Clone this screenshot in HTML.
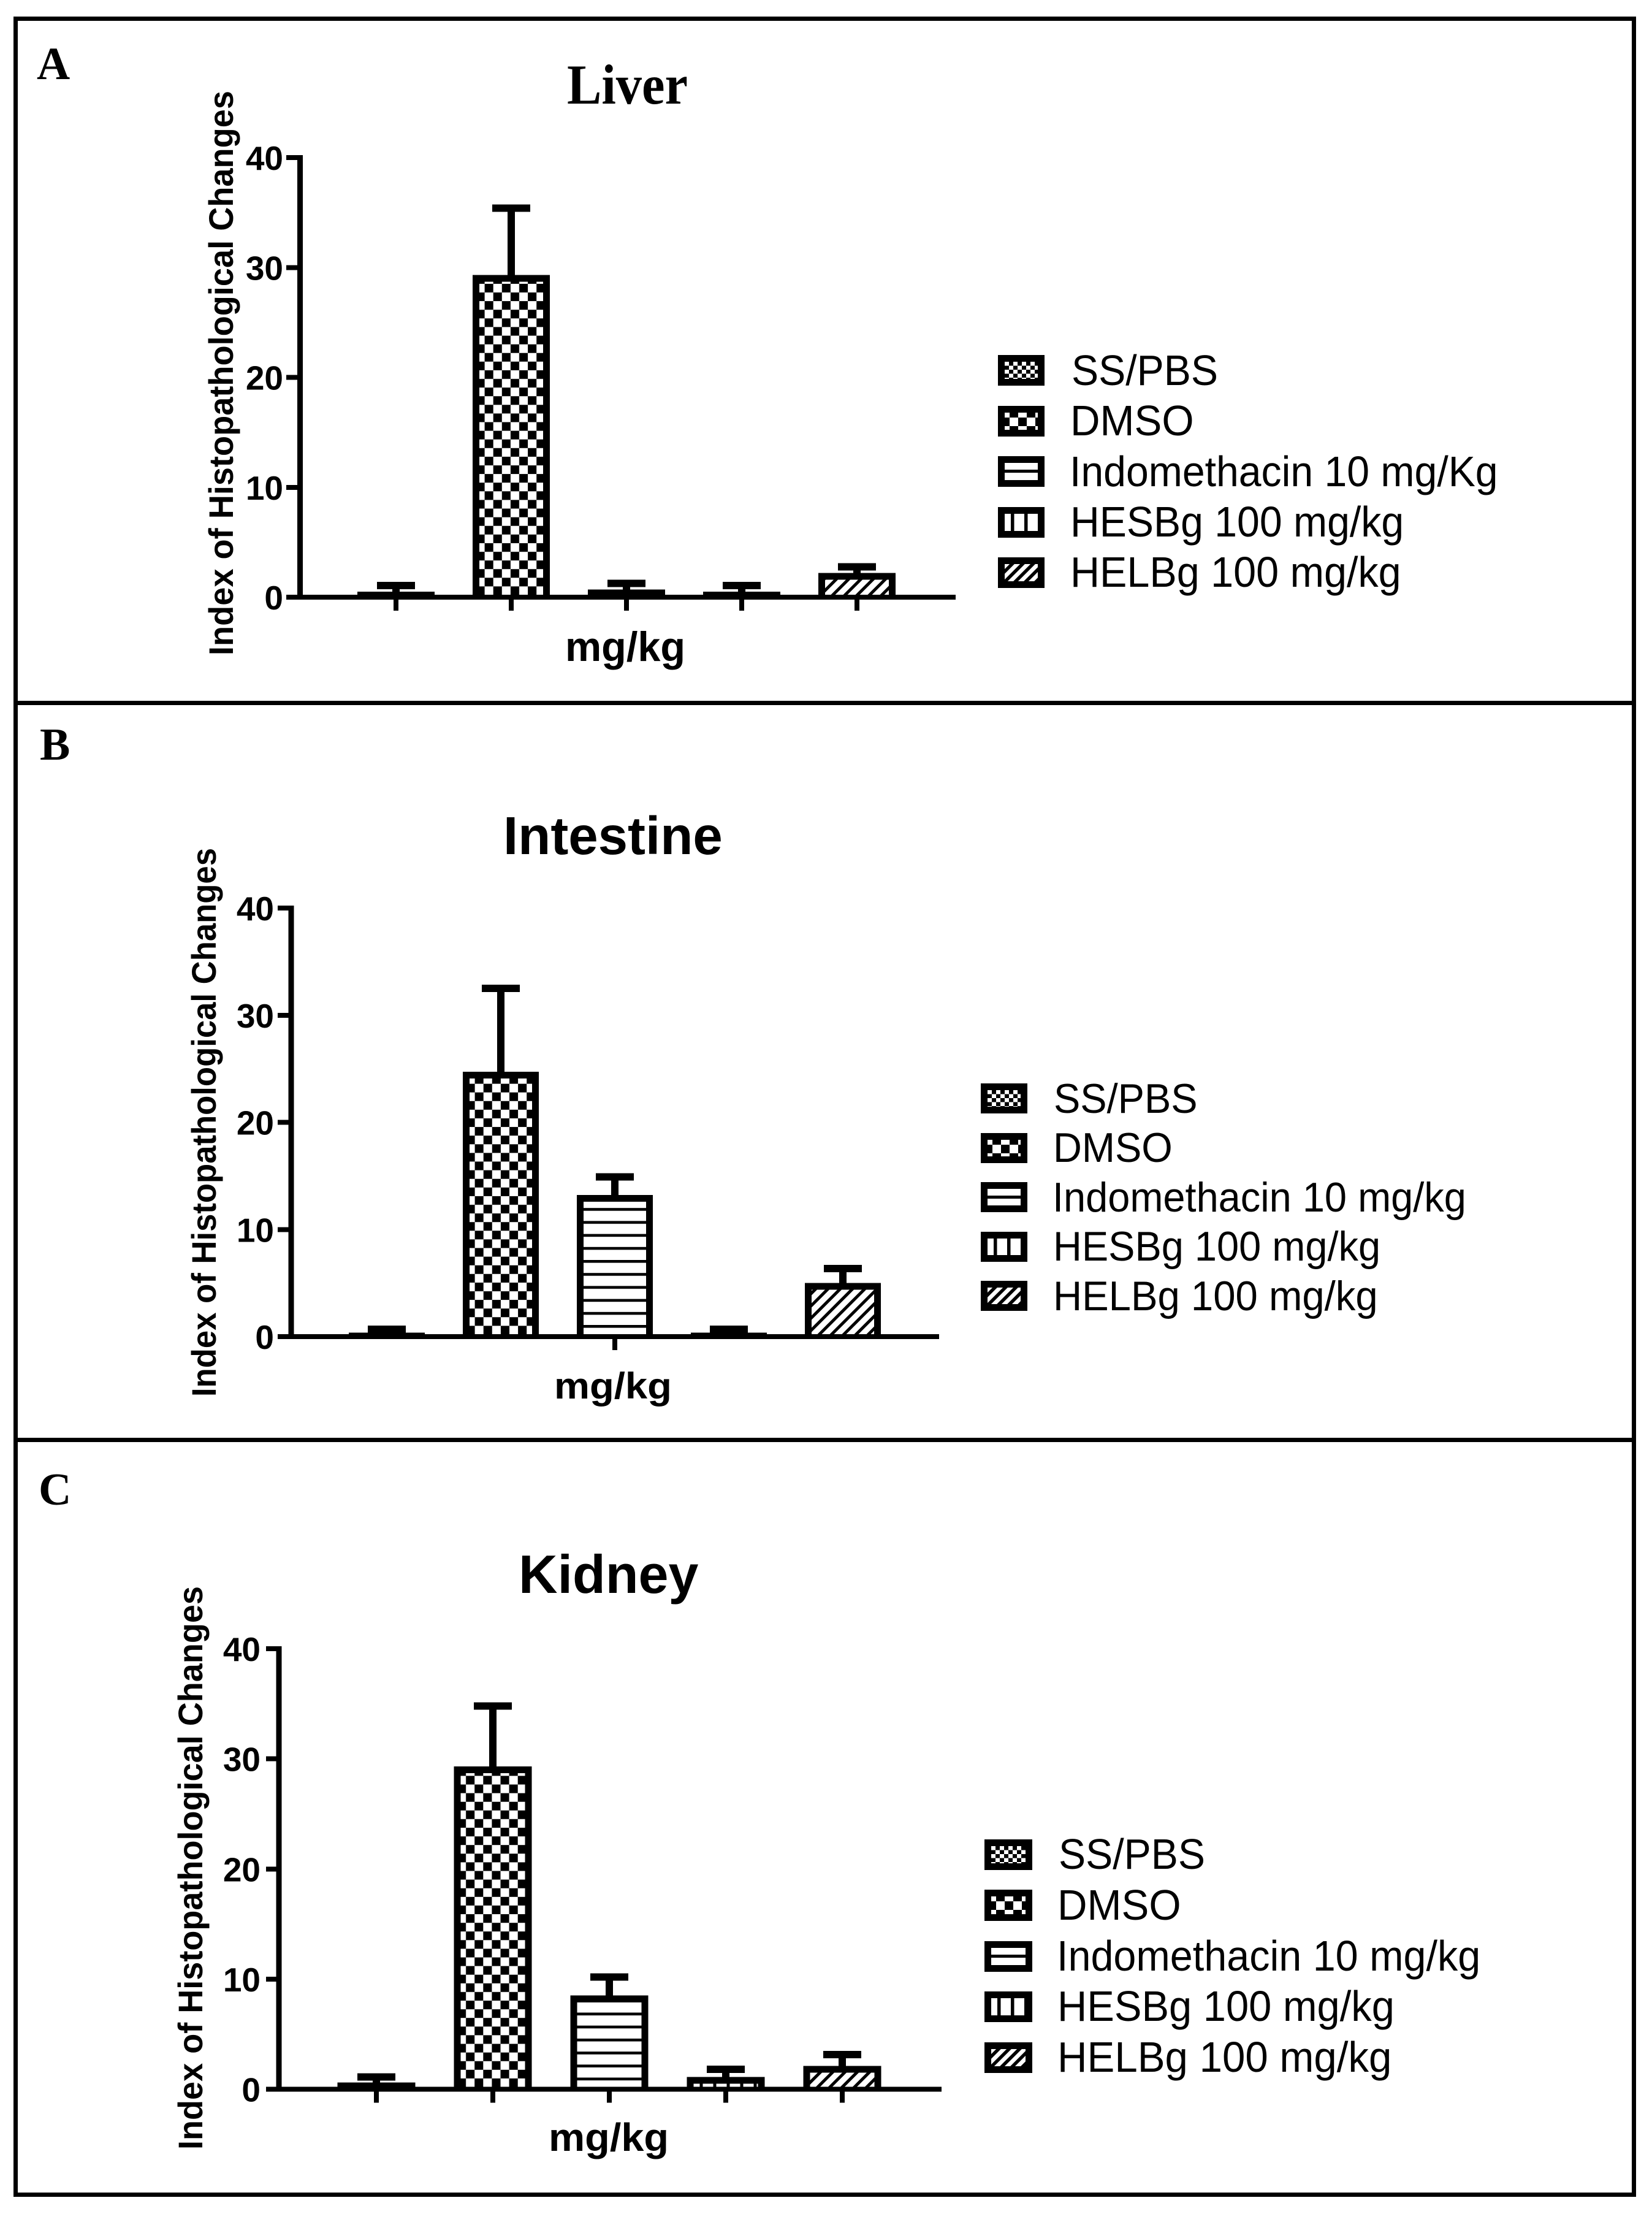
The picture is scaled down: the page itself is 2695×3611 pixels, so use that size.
<!DOCTYPE html>
<html lang="en">
<head>
<meta charset="utf-8">
<title>Index of Histopathological Changes</title>
<style>
html,body{margin:0;padding:0;background:#fff;}
svg{display:block;}
text{fill:#000;font-family:"Liberation Sans",Arial,sans-serif;}
.serif{font-family:"Liberation Serif","Times New Roman",serif;font-weight:bold;}
.bold{font-weight:bold;}
.tick-label{font-weight:bold;font-size:55px;}
</style>
</head>
<body>
<svg id="figure" width="2695" height="3611" viewBox="0 0 2695 3611" xmlns="http://www.w3.org/2000/svg">
<defs>
  <!-- bar fills: local origin is the bar's outer-left edge at the zero line -->
  <pattern id="bar-fill-0" patternUnits="userSpaceOnUse" x="5.5" y="-3.5" width="14" height="14"><rect width="14" height="14" fill="#000"/><rect width="7" height="7" fill="#fff"/><rect x="7" y="7" width="7" height="7" fill="#fff"/></pattern>
  <pattern id="bar-fill-1" patternUnits="userSpaceOnUse" x="5.5" y="-3.5" width="28.2" height="28.2"><rect width="28.2" height="28.2" fill="#000"/><rect width="14.1" height="14.1" fill="#fff"/><rect x="14.1" y="14.1" width="14.1" height="14.1" fill="#fff"/></pattern>
  <pattern id="bar-fill-2" patternUnits="userSpaceOnUse" x="0" y="-19" width="21.2" height="21.2"><rect width="21.2" height="21.2" fill="#fff"/><rect width="21.2" height="4.6" fill="#000"/></pattern>
  <pattern id="bar-fill-3" patternUnits="userSpaceOnUse" x="21" y="0" width="22" height="22"><rect width="22" height="22" fill="#fff"/><rect width="5" height="22" fill="#000"/></pattern>
  <pattern id="bar-fill-4" patternUnits="userSpaceOnUse" x="0" y="0" width="20" height="20"><rect width="20" height="20" fill="#fff"/><path d="M-5,5 L5,-5 M-5,25 L25,-5 M15,25 L25,15" stroke="#000" stroke-width="5" fill="none"/></pattern>
  <!-- legend swatch fills: local origin is the swatch's outer top-left corner -->
  <pattern id="swatch-fill-0" patternUnits="userSpaceOnUse" x="11" y="11" width="14" height="13"><rect width="14" height="13" fill="#000"/><rect width="7" height="6.5" fill="#fff"/><rect x="7" y="6.5" width="7" height="6.5" fill="#fff"/></pattern>
  <pattern id="swatch-fill-1" patternUnits="userSpaceOnUse" x="5" y="5" width="28" height="28"><rect width="28" height="28" fill="#000"/><rect width="14" height="14" fill="#fff"/><rect x="14" y="14" width="14" height="14" fill="#fff"/></pattern>
  <pattern id="swatch-fill-2" patternUnits="userSpaceOnUse" x="0" y="22" width="76" height="50"><rect width="76" height="50" fill="#fff"/><rect width="76" height="5" fill="#000"/></pattern>
  <pattern id="swatch-fill-3" patternUnits="userSpaceOnUse" x="21" y="0" width="22" height="50"><rect width="22" height="50" fill="#fff"/><rect width="5.5" height="50" fill="#000"/></pattern>
  <pattern id="swatch-fill-4" patternUnits="userSpaceOnUse" x="0" y="0" width="17" height="17"><rect width="17" height="17" fill="#fff"/><path d="M-5,5 L5,-5 M-5,22 L22,-5 M12,22 L22,12" stroke="#000" stroke-width="5.5" fill="none"/></pattern>
</defs>

<rect width="2695" height="3611" fill="#fff"/>
<rect x="25.5" y="30.5" width="2640" height="3549" fill="none" stroke="#000" stroke-width="7" shape-rendering="crispEdges"/>
<rect x="25" y="1143" width="2641" height="7" fill="#000"/>
<rect x="25" y="2345" width="2641" height="7" fill="#000"/>

<!-- Panel A -->
<g id="panel-a">
  <text class="serif" x="60" y="129" font-size="75">A</text>
  <text class="serif" x="925" y="169" font-size="92" textLength="197" lengthAdjust="spacingAndGlyphs">Liver</text>
  <text class="bold" transform="translate(380,1069) rotate(-90)" font-size="56" textLength="921" lengthAdjust="spacingAndGlyphs">Index of Histopathological Changes</text>
  <text class="bold" x="922" y="1078" font-size="68" textLength="196" lengthAdjust="spacingAndGlyphs">mg/kg</text>
  <g font-size="70">
    <g transform="translate(1628,579)"><rect x="5.5" y="5.5" width="65" height="39" fill="url(#swatch-fill-0)" stroke="#000" stroke-width="11"/><text transform="translate(120,49) scale(.945,1)">SS/PBS</text></g>
    <g transform="translate(1628,662)"><rect x="5.5" y="5.5" width="65" height="39" fill="url(#swatch-fill-1)" stroke="#000" stroke-width="11"/><text transform="translate(118,48) scale(.96,1)">DMSO</text></g>
    <g transform="translate(1628,744)"><rect x="5.5" y="5.5" width="65" height="39" fill="url(#swatch-fill-2)" stroke="#000" stroke-width="11"/><text transform="translate(117,49) scale(.945,1)">Indomethacin 10 mg/Kg</text></g>
    <g transform="translate(1628,827)"><rect x="5.5" y="5.5" width="65" height="39" fill="url(#swatch-fill-3)" stroke="#000" stroke-width="11"/><text transform="translate(118,48) scale(.945,1)">HESBg 100 mg/kg</text></g>
    <g transform="translate(1628,909)"><rect x="5.5" y="5.5" width="65" height="39" fill="url(#swatch-fill-4)" stroke="#000" stroke-width="11"/><text transform="translate(118,48) scale(.95,1)">HELBg 100 mg/kg</text></g>
  </g>
</g>

<!-- Panel B -->
<g id="panel-b">
  <text class="serif" x="65" y="1239" font-size="74">B</text>
  <text class="bold" x="821" y="1393" font-size="87">Intestine</text>
  <text class="bold" transform="translate(352,2278) rotate(-90)" font-size="56" textLength="895" lengthAdjust="spacingAndGlyphs">Index of Histopathological Changes</text>
  <text class="bold" x="904" y="2281" font-size="60" textLength="192" lengthAdjust="spacingAndGlyphs">mg/kg</text>
  <g font-size="68">
    <g transform="translate(1600,1767)"><rect x="5.5" y="5.5" width="65" height="38" fill="url(#swatch-fill-0)" stroke="#000" stroke-width="11"/><text transform="translate(119,48) scale(.955,1)">SS/PBS</text></g>
    <g transform="translate(1600,1848)"><rect x="5.5" y="5.5" width="65" height="38" fill="url(#swatch-fill-1)" stroke="#000" stroke-width="11"/><text transform="translate(118,47) scale(.955,1)">DMSO</text></g>
    <g transform="translate(1600,1928)"><rect x="5.5" y="5.5" width="65" height="38" fill="url(#swatch-fill-2)" stroke="#000" stroke-width="11"/><text transform="translate(117,48) scale(.955,1)">Indomethacin 10 mg/kg</text></g>
    <g transform="translate(1600,2009)"><rect x="5.5" y="5.5" width="65" height="38" fill="url(#swatch-fill-3)" stroke="#000" stroke-width="11"/><text transform="translate(118,47) scale(.955,1)">HESBg 100 mg/kg</text></g>
    <g transform="translate(1600,2089)"><rect x="5.5" y="5.5" width="65" height="38" fill="url(#swatch-fill-4)" stroke="#000" stroke-width="11"/><text transform="translate(118,48) scale(.96,1)">HELBg 100 mg/kg</text></g>
  </g>
</g>

<!-- Panel C -->
<g id="panel-c">
  <text class="serif" x="63" y="2454" font-size="74">C</text>
  <text class="bold" x="846" y="2598" font-size="88">Kidney</text>
  <text class="bold" transform="translate(330,3506) rotate(-90)" font-size="56" textLength="919" lengthAdjust="spacingAndGlyphs">Index of Histopathological Changes</text>
  <text class="bold" x="895" y="3508" font-size="64" textLength="196" lengthAdjust="spacingAndGlyphs">mg/kg</text>
  <g font-size="70">
    <g transform="translate(1606,3000)"><rect x="5.5" y="5.5" width="67" height="39" fill="url(#swatch-fill-0)" stroke="#000" stroke-width="11"/><text transform="translate(121,48) scale(.945,1)">SS/PBS</text></g>
    <g transform="translate(1606,3082)"><rect x="5.5" y="5.5" width="67" height="40" fill="url(#swatch-fill-1)" stroke="#000" stroke-width="11"/><text transform="translate(119,49) scale(.96,1)">DMSO</text></g>
    <g transform="translate(1606,3166)"><rect x="5.5" y="5.5" width="67" height="39" fill="url(#swatch-fill-2)" stroke="#000" stroke-width="11"/><text transform="translate(118,48) scale(.95,1)">Indomethacin 10 mg/kg</text></g>
    <g transform="translate(1606,3248)"><rect x="5.5" y="5.5" width="67" height="39" fill="url(#swatch-fill-3)" stroke="#000" stroke-width="11"/><text transform="translate(119,48) scale(.955,1)">HESBg 100 mg/kg</text></g>
    <g transform="translate(1606,3331)"><rect x="5.5" y="5.5" width="67" height="39" fill="url(#swatch-fill-4)" stroke="#000" stroke-width="11"/><text transform="translate(119,48) scale(.96,1)">HELBg 100 mg/kg</text></g>
  </g>
</g>
</svg>

<script>
// ---- chart data ----
const categories = ['ss-pbs', 'dmso', 'indomethacin', 'hesbg', 'helbg'];
const yTicks = [0, 10, 20, 30, 40];
const yTickLabels = ['0', '10', '20', '30', '40'];
const liverMeans = [0.2, 29.0, 0.4, 0.2, 1.9];
const liverErrors = [0.85, 6.4, 0.85, 0.85, 0.85];
const intestineMeans = [0.05, 24.4, 12.9, 0.05, 4.7];
const intestineErrors = [0.65, 8.1, 2.0, 0.65, 1.65];
const kidneyMeans = [0.3, 29.0, 8.2, 0.8, 1.8];
const kidneyErrors = [0.8, 5.8, 2.0, 1.0, 1.35];

// ---- layout (per panel) ----
const SVG_NS = 'http://www.w3.org/2000/svg';
const BAR_STROKE = 11;
const panels = [
  {id: 'panel-a', name: 'liver', means: liverMeans, errors: liverErrors, axisX: 489.5, y0: 974, yTop: 257, left: 467, right: 1559, first: 646, step: 188, barW: 126, labelR: 462, xTicks: [0, 1, 2, 3, 4]},
  {id: 'panel-b', name: 'intestine', means: intestineMeans, errors: intestineErrors, axisX: 475, y0: 2180, yTop: 1481, left: 453, right: 1532, first: 631, step: 186, barW: 124, labelR: 447, xTicks: [2]},
  {id: 'panel-c', name: 'kidney', means: kidneyMeans, errors: kidneyErrors, axisX: 455, y0: 3407.5, yTop: 2689, left: 434, right: 1536, first: 614, step: 190, barW: 127, labelR: 425, xTicks: [0, 1, 2, 3, 4]}
];

function make(tag, attrs) {
  const el = document.createElementNS(SVG_NS, tag);
  Object.keys(attrs).forEach(function (k) { el.setAttribute(k, attrs[k]); });
  return el;
}

panels.forEach(function (p) {
  const root = document.getElementById(p.id);
  const yMax = yTicks[yTicks.length - 1];
  const yScale = function (v) { return p.y0 - (v / yMax) * (p.y0 - p.yTop); };
  const xScale = function (i) { return p.first + i * p.step; };

  // bars and error bars
  categories.forEach(function (cat, i) {
    const cx = xScale(i);
    const outerLeft = cx - p.barW / 2;
    const barGroup = make('g', {transform: 'translate(' + outerLeft + ',' + p.y0 + ')'});
    
    
    const top = yScale(p.means[i]) - p.y0;
    const outerTop = top - BAR_STROKE / 2;
    const bar = make('rect', {
      x: 0, y: outerTop, width: p.barW, height: 4 - outerTop,
      fill: '#000', 'shape-rendering': 'crispEdges'
    });
    
    
    barGroup.appendChild(bar);
    const innerTop = top + BAR_STROKE / 2;
    if (innerTop < 0) {
      const fill = make('rect', {
        x: BAR_STROKE, y: innerTop, width: p.barW - 2 * BAR_STROKE, height: -innerTop,
        fill: 'url(#bar-fill-' + i + ')', 'shape-rendering': 'crispEdges'
      });
      
      
      barGroup.appendChild(fill);
    }
    root.appendChild(barGroup);

    const errTop = yScale(p.means[i] + p.errors[i]);
    const stem = make('rect', {x: cx - 6, y: errTop, width: 12, height: yScale(p.means[i]) - errTop, fill: '#000', 'shape-rendering': 'crispEdges'});
    
    
    root.appendChild(stem);

    const cap = make('rect', {x: cx - 31, y: errTop - 6, width: 62, height: 12, fill: '#000', 'shape-rendering': 'crispEdges'});
    
    
    root.appendChild(cap);
  });

  // y axis
  const yAxis = make('rect', {x: p.axisX - 4.5, y: p.yTop - 4, width: 9, height: p.y0 - p.yTop + 8, fill: '#000', 'shape-rendering': 'crispEdges'});
  
  
  root.appendChild(yAxis);

  yTicks.forEach(function (t, i) {
    const y = yScale(t);
    const tick = make('rect', {x: p.left, y: y - 4, width: p.axisX - p.left, height: 8, fill: '#000', 'shape-rendering': 'crispEdges'});
    
    
    root.appendChild(tick);

    const label = make('text', {x: p.labelR, y: y + 20, 'text-anchor': 'end', 'class': 'tick-label'});
    
    
    label.textContent = yTickLabels[i];
    root.appendChild(label);
  });

  // x axis
  const xAxis = make('rect', {x: p.left, y: p.y0 - 4, width: p.right - p.left, height: 8, fill: '#000', 'shape-rendering': 'crispEdges'});
  
  
  root.appendChild(xAxis);

  p.xTicks.forEach(function (i) {
    const xTick = make('rect', {x: xScale(i) - 4, y: p.y0 + 4, width: 8, height: 18, fill: '#000', 'shape-rendering': 'crispEdges'});
    
    
    root.appendChild(xTick);
  });
});
</script>
</body>
</html>
